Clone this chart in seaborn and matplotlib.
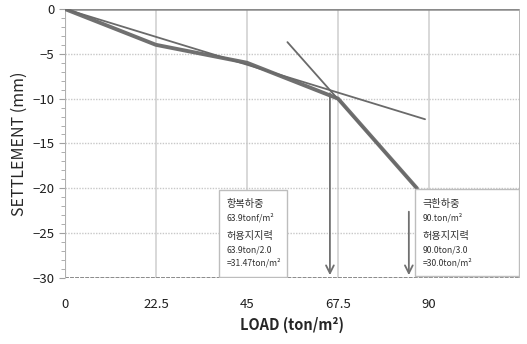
import matplotlib
matplotlib.use("Agg")
import matplotlib.pyplot as plt
import seaborn as sns
import pandas as pd
from matplotlib.patches import Rectangle

# Load-settlement test record
load = [0, 22.5, 45, 67.5, 87]
settlement = [0, -4, -6, -10, -20]

# Tangent lines used to locate yield / ultimate loads
tangent1_x = [0, 89]
tangent1_y = [0, -12.3]
tangent2_x = [55, 87]
tangent2_y = [-3.7, -20]

# Arrows dropped to the load axis
yield_arrow = (65.5, -9.1)
ultimate_arrow = (85, -22.3)

x_ticks = [0, 22.5, 45, 67.5, 90]
x_tick_labels = ["0", "22.5", "45", "67.5", "90"]
y_ticks = [0, -5, -10, -15, -20, -25, -30]

box1_lines = ["항복하중", "63.9tonf/m²", "허용지지력", "63.9ton/2.0", "=31.47ton/m²"]
box2_lines = ["극한하중", "90.ton/m²", "허용지지력", "90.0ton/3.0", "=30.0ton/m²"]

sns.set_theme(style="white")
plt.rcParams["font.family"] = ["Noto Sans CJK KR", "DejaVu Sans"]

fig = plt.figure(figsize=(5.27, 3.44), dpi=100)
ax = fig.add_axes([0.123, 0.192, 0.864, 0.782])

ax.set_xlim(0, 112.5)
ax.set_ylim(-30, 0)

# grid
for xv in x_ticks[1:]:
    ax.axvline(xv, color="#d8d8d8", lw=1.4, zorder=0)
for yv in y_ticks[1:-1]:
    ax.axhline(yv, color="#c8c8c8", lw=1.0, ls=(0, (1, 1)), zorder=0)

df = pd.DataFrame({"load": load, "settlement": settlement})
sns.lineplot(data=df, x="load", y="settlement", ax=ax, color="#707070",
             lw=2.8, sort=False, zorder=3)

ax.plot(tangent1_x, tangent1_y, color="#6a6a6a", lw=1.3, zorder=4)
ax.plot(tangent2_x, tangent2_y, color="#6a6a6a", lw=1.3, zorder=4)

for (ax_x, ax_y) in [yield_arrow, ultimate_arrow]:
    ax.annotate("", xy=(ax_x, -30), xytext=(ax_x, ax_y),
                arrowprops=dict(arrowstyle="->", color="#707070", lw=1.3,
                                mutation_scale=14), zorder=5)

# annotation boxes
def text_box(x0, x1, y0, y1, lines):
    ax.add_patch(Rectangle((x0, y0), x1 - x0, y1 - y0, facecolor="white",
                           edgecolor="#bdbdbd", lw=1.0, zorder=6))
    ys = [-21.8, -23.3, -25.3, -26.9, -28.3]
    for i, (t, yy) in enumerate(zip(lines, ys)):
        fs = 7.3 if i in (0, 2) else 6.2
        ax.text(x0 + 1.8, yy, t, fontsize=fs, color="#303030",
                va="center", ha="left", zorder=7)

text_box(38.1, 54.9, -29.9, -20.2, box1_lines)
text_box(86.5, 112.3, -29.8, -20.1, box2_lines)

# axes styling
ax.set_xticks(x_ticks)
ax.set_xticklabels(x_tick_labels)
ax.set_yticks(y_ticks)
ax.set_yticks(range(-30, 1), minor=True)
ax.tick_params(axis="x", length=0, pad=14.5, labelsize=9.5, labelcolor="#202020")
ax.tick_params(axis="y", which="major", length=4, width=0.8, color="#a0a0a0",
               direction="out", left=True, labelsize=9.5, labelcolor="#202020")
ax.tick_params(axis="y", which="minor", length=3, width=0.6, color="#a0a0a0",
               direction="out", left=True)

for side in ["top", "right", "bottom", "left"]:
    ax.spines[side].set_visible(False)
ax.axhline(0, color="#8a8a8a", lw=1.8, zorder=2)
ax.axhline(-30, color="#8a8a8a", lw=1.4, ls=(0, (2, 0.6)), zorder=2)
ax.axvline(0, color="#b0b0b0", lw=0.8, zorder=2)
ax.axvline(112.5, color="#b0b0b0", lw=2.0, zorder=2)

ax.set_xlabel("LOAD (ton/m²)", fontsize=10.5, fontweight="bold", labelpad=4)
ax.set_ylabel("SETTLEMENT (mm)", fontsize=11.5, labelpad=3)

fig.savefig("out.png", dpi=100)
